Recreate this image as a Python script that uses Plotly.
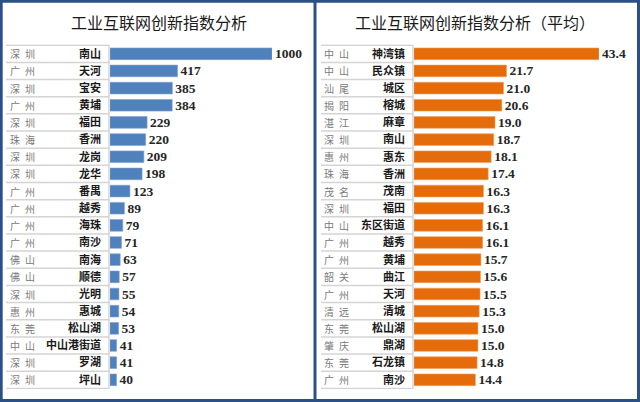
import plotly.graph_objects as go

# ---------------- data ----------------
left_title = "工业互联网创新指数分析"
left_cities = ["深圳", "广州", "深圳", "广州", "深圳", "珠海", "深圳", "深圳", "广州", "广州",
               "广州", "广州", "佛山", "佛山", "深圳", "惠州", "东莞", "中山", "深圳", "深圳"]
left_districts = ["南山", "天河", "宝安", "黄埔", "福田", "香洲", "龙岗", "龙华", "番禺", "越秀",
                  "海珠", "南沙", "南海", "顺德", "光明", "惠城", "松山湖", "中山港街道", "罗湖", "坪山"]
left_values = [1000, 417, 385, 384, 229, 220, 209, 198, 123, 89,
               79, 71, 63, 57, 55, 54, 53, 41, 41, 40]

right_title = "工业互联网创新指数分析（平均）"
right_cities = ["中山", "中山", "汕尾", "揭阳", "湛江", "深圳", "惠州", "珠海", "茂名", "深圳",
                "中山", "广州", "广州", "韶关", "广州", "清远", "东莞", "肇庆", "东莞", "广州"]
right_districts = ["神湾镇", "民众镇", "城区", "榕城", "麻章", "南山", "惠东", "香洲", "茂南", "福田",
                   "东区街道", "越秀", "黄埔", "曲江", "天河", "清城", "松山湖", "鼎湖", "石龙镇", "南沙"]
right_values = [43.4, 21.7, 21.0, 20.6, 19.0, 18.7, 18.1, 17.4, 16.3, 16.3,
                16.1, 16.1, 15.7, 15.6, 15.5, 15.3, 15.0, 15.0, 14.8, 14.4]

# ---------------- layout constants ----------------
W, H = 640, 402
CJK = "Noto Sans CJK SC"
SERIF = "Liberation Serif, Times New Roman, serif"
row_top, row_bot = 44.3, 389.3
ydom = [1 - row_bot / H, 1 - row_top / H]

fig = go.Figure()

fig.add_trace(go.Bar(
    x=left_values, y=left_districts, orientation="h",
    marker=dict(color="#4F81BD", line=dict(color="#7FA3D3", width=0.6)),
    text=left_values, texttemplate="%{x}", textposition="outside", constraintext="none",
    textfont=dict(family=SERIF, size=13.5, color="#262626", weight="bold"),
    cliponaxis=False, xaxis="x", yaxis="y", showlegend=False, hoverinfo="x+y",
))
fig.add_trace(go.Bar(
    x=right_values, y=right_districts, orientation="h",
    marker=dict(color="#E46C0A", line=dict(color="#F0A060", width=0.6)),
    text=right_values, texttemplate="%{x:.1f}", textposition="outside", constraintext="none",
    textfont=dict(family=SERIF, size=13.5, color="#262626", weight="bold"),
    cliponaxis=False, xaxis="x2", yaxis="y2", showlegend=False, hoverinfo="x+y",
))

ytick_font = dict(family=CJK, size=11, color="#1a1a1a", weight="bold")
fig.update_layout(
    width=W, height=H,
    margin=dict(l=0, r=0, t=0, b=0),
    paper_bgcolor="white", plot_bgcolor="white",
    bargap=0.32,
    xaxis=dict(domain=[110 / W, 272 / W], range=[0, 1000], visible=False, anchor="y"),
    yaxis=dict(domain=ydom, anchor="x", autorange="reversed", type="category",
               categoryorder="array", categoryarray=left_districts,
               showgrid=False, showline=False, zeroline=False, ticks="",
               tickfont=ytick_font, ticklabelstandoff=8),
    xaxis2=dict(domain=[414 / W, 599 / W], range=[0, 43.4], visible=False, anchor="y2"),
    yaxis2=dict(domain=ydom, anchor="x2", autorange="reversed", type="category",
                categoryorder="array", categoryarray=right_districts,
                showgrid=False, showline=False, zeroline=False, ticks="",
                tickfont=ytick_font, ticklabelstandoff=8),
)

shapes = []
annotations = []

# panel borders
border = "#2B5088"
shapes.append(dict(type="rect", xref="paper", yref="paper", x0=1.2 / W, x1=1 - 1.5 / W,
                   y0=1.5 / H, y1=1 - 1.2 / H, line=dict(color=border, width=3)))
shapes.append(dict(type="line", xref="paper", yref="paper", x0=315 / W, x1=315 / W,
                   y0=0, y1=1, line=dict(color=border, width=3)))

# label table lines
for (xl, xr, yref, n) in [(6, 109, "y", len(left_districts)), (321, 413, "y2", len(right_districts))]:
    for i in range(n + 1):
        shapes.append(dict(type="line", xref="paper", yref=yref, x0=xl / W, x1=xr / W,
                           y0=i - 0.5, y1=i - 0.5, line=dict(color="#D4D4D4", width=1.5)))
    shapes.append(dict(type="line", xref="paper", yref=yref, x0=xr / W, x1=xr / W,
                       y0=-0.5, y1=n - 0.5, line=dict(color="#D4D4D4", width=1.5)))

# city labels
for cities, districts, yref, x in [(left_cities, left_districts, "y", 8),
                                   (right_cities, right_districts, "y2", 322)]:
    for c, d in zip(cities, districts):
        annotations.append(dict(xref="paper", yref=yref, x=x / W, y=d, xanchor="left",
                                yanchor="middle", showarrow=False,
                                text=c[0] + "\u2002" + c[1],
                                font=dict(family=CJK, size=10, color="#7a7a7a")))

# titles
annotations.append(dict(xref="paper", yref="paper", x=159 / W, y=1 - 22 / H, xanchor="center",
                        yanchor="middle", showarrow=False, text=left_title,
                        font=dict(family=CJK, size=16, color="#1a1a1a")))
annotations.append(dict(xref="paper", yref="paper", x=475 / W, y=1 - 22 / H, xanchor="center",
                        yanchor="middle", showarrow=False, text=right_title,
                        font=dict(family=CJK, size=16, color="#1a1a1a")))

fig.update_layout(shapes=shapes, annotations=annotations)

fig.write_html("out.html", config={"displayModeBar": False},
               post_script="document.body.style.margin='0';document.body.style.overflow='hidden';")
